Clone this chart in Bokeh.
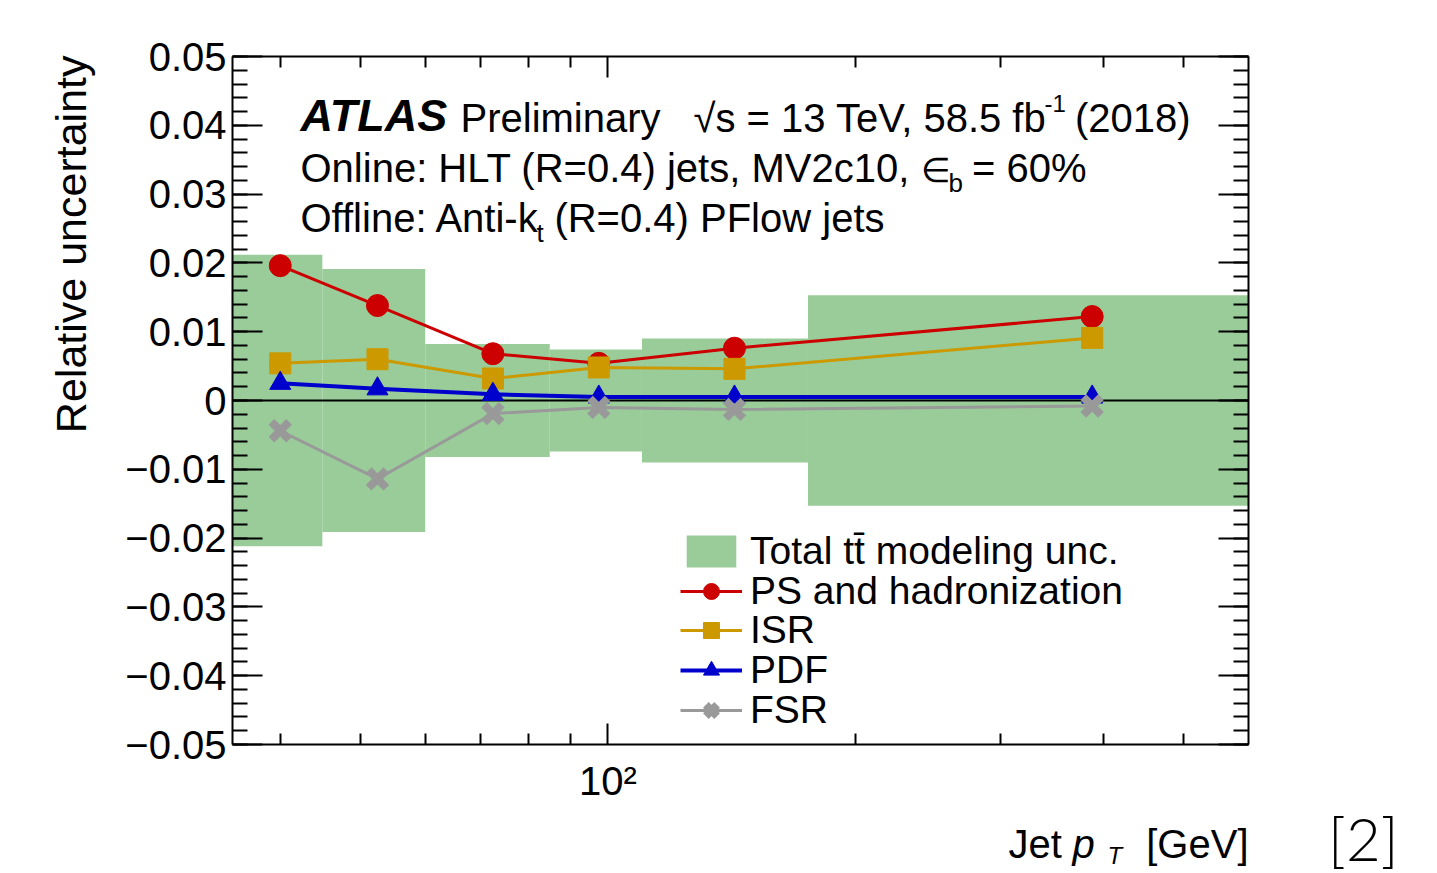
import numpy as np
from bokeh.plotting import figure
from bokeh.models import (Range1d, FixedTicker, LinearAxis, LogAxis, CustomJSTickFormatter,
                          Label, Legend, LegendItem)
from bokeh.embed import file_html
from bokeh.resources import INLINE

# ---------------- data ----------------
bin_edges = [35, 45, 60, 85, 110, 175, 600]
pt_centers = [40, 52.5, 72.5, 97.5, 142.5, 387.5]
total_unc = [0.0212, 0.0191, 0.0082, 0.0074, 0.0090, 0.0153]
ps_had = [0.0196, 0.0138, 0.0068, 0.0054, 0.0076, 0.0122]
isr = [0.0054, 0.0060, 0.0032, 0.0048, 0.0046, 0.0091]
pdf = [0.0025, 0.0017, 0.0009, 0.0005, 0.0005, 0.0005]
fsr = [-0.0044, -0.0114, -0.0019, -0.0010, -0.0013, -0.0008]

y_ticks = [-0.05, -0.04, -0.03, -0.02, -0.01, 0.0, 0.01, 0.02, 0.03, 0.04, 0.05]
y_tick_labels = ["\u22120.05", "\u22120.04", "\u22120.03", "\u22120.02", "\u22120.01", "0",
                 "0.01", "0.02", "0.03", "0.04", "0.05"]
y_minor = [round(-0.05 + 0.002 * i, 3) for i in range(51)]
x_ticks = [100]
x_tick_labels = ["10\u00b2"]
x_minor = [40, 50, 60, 70, 80, 90, 200, 300, 400, 500]

legend_labels = ["Total tt\u0304 modeling unc.", "PS and hadronization", "ISR", "PDF", "FSR"]

X_RANGE = (35, 600)      # axis box range
Y_RANGE = (-0.05, 0.05)

FONT = "Liberation Sans"
FS = 40

# pixel geometry of the axis box inside the 1437x873 canvas
FL, FR, FT, FB = 232, 1248, 56, 744
W, H = 1437, 873
DEC = np.log10(X_RANGE[1] / X_RANGE[0])


def xd(px):
    return X_RANGE[0] * 10 ** ((px - FL) / (FR - FL) * DEC)


def yd(py):
    return Y_RANGE[1] - (py - FT) / (FB - FT) * (Y_RANGE[1] - Y_RANGE[0])


# the plotting frame covers the whole canvas; the axis box is drawn with fixed-location axes
p = figure(width=W, height=H, x_axis_type="log",
           x_range=Range1d(xd(0), xd(W)), y_range=Range1d(yd(H), yd(0)),
           output_backend="svg", toolbar_location=None,
           min_border=0, min_border_left=0, min_border_right=0,
           min_border_top=0, min_border_bottom=0)
p.grid.visible = False
p.outline_line_color = None
p.background_fill_color = "white"
p.border_fill_color = "white"

yfmt = CustomJSTickFormatter(args=dict(vals=y_ticks, labels=y_tick_labels),
                             code="""
for (let i = 0; i < vals.length; i++) { if (Math.abs(vals[i] - tick) < 1e-9) return labels[i]; }
return '';
""")
xfmt = CustomJSTickFormatter(args=dict(vals=x_ticks, labels=x_tick_labels),
                             code="""
for (let i = 0; i < vals.length; i++) { if (Math.abs(vals[i] - tick) < 1e-6) return labels[i]; }
return '';
""")
blankfmt = CustomJSTickFormatter(code="return '';")


def style_common(ax, show_labels):
    ax.major_tick_out = 0
    ax.minor_tick_out = 0
    ax.major_tick_line_width = 2
    ax.minor_tick_line_width = 2
    ax.axis_line_width = 2
    ax.axis_line_color = "black"
    ax.major_tick_line_color = "black"
    ax.minor_tick_line_color = "black"
    ax.major_label_text_font = FONT
    ax.major_label_text_font_size = f"{FS}px"
    ax.major_label_text_color = "black"
    ax.axis_label = None
    if not show_labels:
        ax.formatter = blankfmt


def style_y(ax, show_labels, loc):
    ax.ticker = FixedTicker(ticks=y_ticks, minor_ticks=y_minor)
    ax.formatter = yfmt
    ax.fixed_location = loc
    ax.bounds = Y_RANGE
    ax.major_tick_in = 30
    ax.minor_tick_in = 15
    ax.major_label_standoff = 6
    style_common(ax, show_labels)


def style_x(ax, show_labels, loc):
    ax.ticker = FixedTicker(ticks=x_ticks, minor_ticks=x_minor)
    ax.formatter = xfmt
    ax.fixed_location = loc
    ax.bounds = X_RANGE
    ax.major_tick_in = 21
    ax.minor_tick_in = 11
    ax.major_label_standoff = 14
    style_common(ax, show_labels)


style_y(p.yaxis[0], True, X_RANGE[0])
style_x(p.xaxis[0], True, Y_RANGE[0])
ry = LinearAxis()
style_y(ry, False, X_RANGE[1])
p.add_layout(ry, "right")
tx = LogAxis()
style_x(tx, False, Y_RANGE[1])
p.add_layout(tx, "above")

GREEN = "#99cc99"
band = p.quad(left=bin_edges[:-1], right=bin_edges[1:],
              top=total_unc, bottom=[-v for v in total_unc],
              fill_color=GREEN, line_color=None)
# zero reference line across the axis box
p.line(x=list(X_RANGE), y=[0, 0], line_color="black", line_width=2)

RED, ORANGE, BLUE, GREY = "#cc0000", "#cc9900", "#0000cc", "#999999"
ps_l = p.line(pt_centers, ps_had, line_color=RED, line_width=3)
ps_m = p.scatter(pt_centers, ps_had, marker="circle", size=22, fill_color=RED, line_color=RED)
isr_l = p.line(pt_centers, isr, line_color=ORANGE, line_width=3)
isr_m = p.scatter(pt_centers, isr, marker="square", size=21, fill_color=ORANGE, line_color=ORANGE)
pdf_l = p.line(pt_centers, pdf, line_color=BLUE, line_width=4)
pdf_m = p.scatter(pt_centers, pdf, marker="triangle", size=21, fill_color=BLUE, line_color=BLUE)
fsr_l = p.line(pt_centers, fsr, line_color=GREY, line_width=3)
fsr_m = p.scatter(pt_centers, fsr, marker="x", size=25, line_color=GREY, line_width=8)

# one legend per row so that the row pitch matches the reference
legend_renderers = [[band], [ps_l, ps_m], [isr_l, isr_m], [pdf_l, pdf_m], [fsr_l, fsr_m]]
row_centers = [551, 591, 630, 670, 710]
ROW_HALF = 22
for lbl, rends, rc in zip(legend_labels, legend_renderers, row_centers):
    lg = Legend(items=[LegendItem(label=lbl, renderers=rends)],
                location=(680, H - rc - ROW_HALF), orientation="vertical",
                label_text_font=FONT, label_text_font_size="39px", label_text_color="black",
                glyph_width=62, glyph_height=40, label_standoff=8, spacing=0,
                padding=0, margin=0, border_line_alpha=0, background_fill_alpha=0,
                label_height=36)
    p.add_layout(lg)

SHIFT = 0.37  # Bokeh's rendered baseline sits this fraction of the size below the anchor


def lab(px, py, text, size=FS, align="left", style="normal", font=FONT, angle=0):
    if angle == 0:
        py = py - SHIFT * size
    else:
        px = px - SHIFT * size
    p.add_layout(Label(x=xd(px), y=yd(py), text=text, text_font=font,
                       text_font_size=f"{size}px", text_align=align, text_font_style=style,
                       text_baseline="alphabetic", angle=angle, angle_units="deg",
                       text_color="black"))


# header texts
lab(300, 132, "ATLAS", size=45, style="bold italic")
lab(460, 132, "Preliminary")
lab(693, 132, "\u221as = 13 TeV, 58.5 fb")
lab(1044, 112, "-1", size=24)
lab(1190, 132, "(2018)", align="right")
lab(300, 182, "Online: HLT (R=0.4) jets, MV2c10,")
lab(920, 182, "\u2208", size=34)
lab(948, 192, "b", size=26)
lab(1086, 182, "= 60%", align="right")
lab(300, 232, "Offline: Anti-k")
lab(536, 242, "t", size=26)
lab(884, 232, "(R=0.4) PFlow jets", align="right")

# axis titles
lab(86, 55, "Relative uncertainty", size=43, align="right", angle=90)
lab(1008, 858, "Jet")
lab(1072, 858, "p", style="italic")
lab(1107, 864, "T", size=24, style="italic")
lab(1248, 858, "[GeV]", align="right")

# page reference marker
lab(1398, 860, "[2]", size=60, align="right", font="Lato Light")

open("out.html", "w").write(file_html(p, INLINE))
